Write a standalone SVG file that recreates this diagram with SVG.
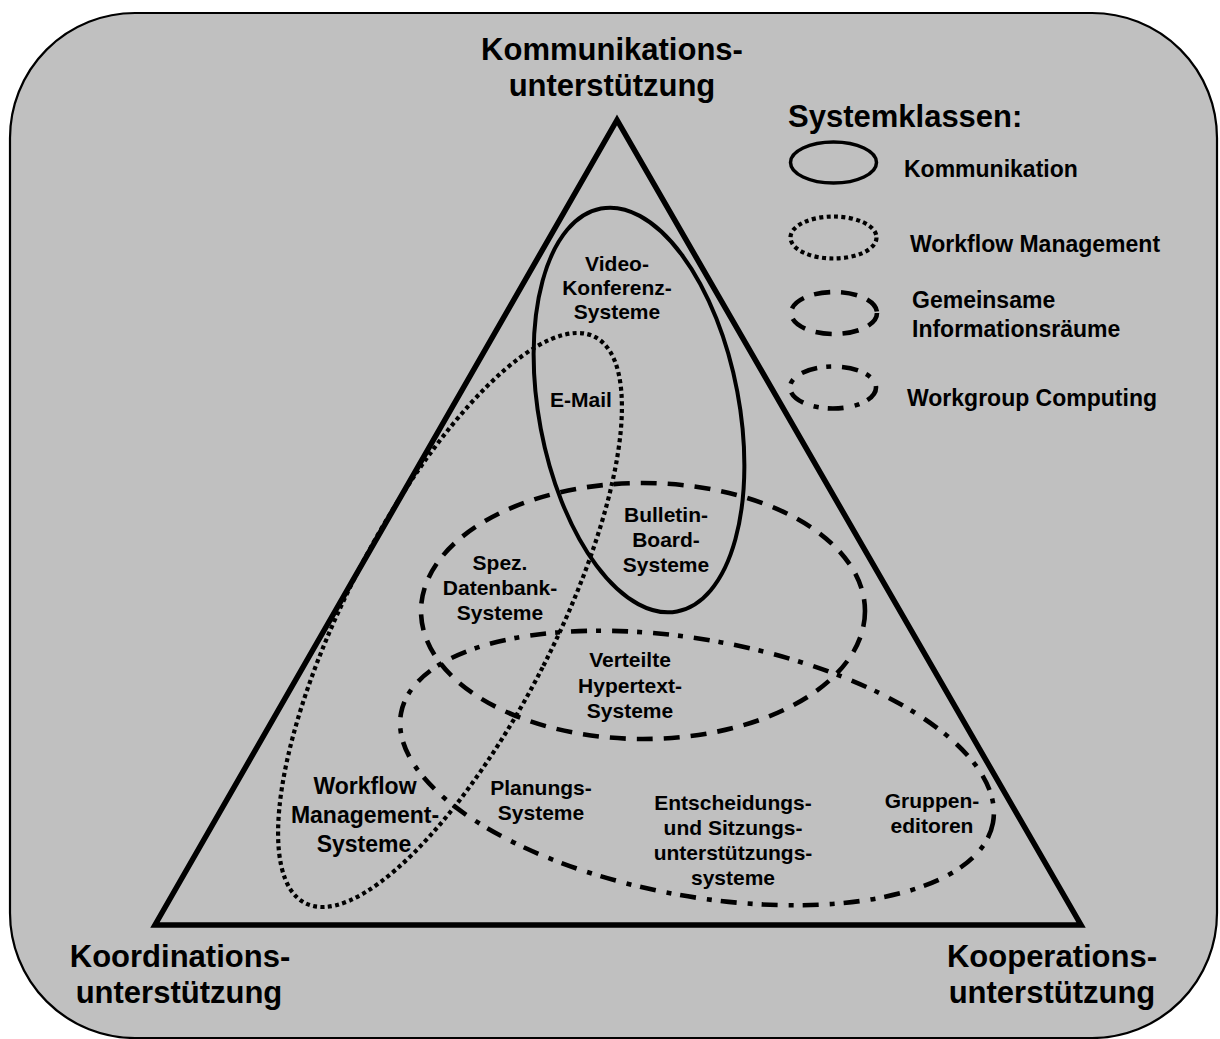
<svg xmlns="http://www.w3.org/2000/svg" width="1220" height="1039" viewBox="0 0 1220 1039">
<style>
text{font-family:"Liberation Sans",Arial,sans-serif;font-weight:bold;fill:#000}
.c{text-anchor:middle}
.lbl{font-size:21px}
.big{font-size:31px}
.leg{font-size:23px}
.e{fill:none;stroke:#000}
.solid{stroke-width:4}
.dot{stroke-width:4.2;stroke-dasharray:4 3.4}
.dash{stroke-width:4.6;stroke-dasharray:16 11}
.dd{stroke-width:4.6;stroke-dasharray:16 9 5 11}
</style>
<rect id="background" x="10" y="13" width="1207" height="1025" rx="125" ry="125" fill="#c0c0c0" stroke="#000" stroke-width="2.2"/>
<g id="triangle">
<polygon points="617,120 155,925 1081,925" fill="none" stroke="#000" stroke-width="5.5" stroke-linejoin="miter"/>
</g>
<g id="connectors"></g>
<g id="ellipse-kommunikation">
<ellipse class="e solid" cx="639" cy="410" rx="100" ry="205" transform="rotate(-10.7 639 410)"/>
</g>
<g id="ellipse-workflow">
<ellipse class="e dot" cx="450" cy="620" rx="104" ry="318" transform="rotate(27.1 450 620)"/>
</g>
<g id="ellipse-informationsraeume">
<ellipse class="e dash" cx="643" cy="611" rx="222" ry="128"/>
</g>
<g id="ellipse-workgroup">
<ellipse class="e dd" cx="697" cy="768" rx="301" ry="128" transform="rotate(10.5 697 768)"/>
</g>
<g id="label-kommunikation">
<text class="big c" x="612" y="60">Kommunikations-</text>
<text class="big c" x="612" y="96">unterstützung</text>
</g>
<g id="label-koordination">
<text class="big c" x="180" y="967">Koordinations-</text>
<text class="big c" x="179" y="1003">unterstützung</text>
</g>
<g id="label-kooperation">
<text class="big c" x="1052" y="967">Kooperations-</text>
<text class="big c" x="1052" y="1003">unterstützung</text>
</g>
<g id="node-video">
<text class="lbl c" x="617" y="271">Video-</text>
<text class="lbl c" x="617" y="295">Konferenz-</text>
<text class="lbl c" x="617" y="319">Systeme</text>
</g>
<g id="node-email">
<text class="lbl c" x="581" y="407">E-Mail</text>
</g>
<g id="node-bulletin">
<text class="lbl c" x="666" y="522">Bulletin-</text>
<text class="lbl c" x="666" y="547">Board-</text>
<text class="lbl c" x="666" y="572">Systeme</text>
</g>
<g id="node-datenbank">
<text class="lbl c" x="500" y="570">Spez.</text>
<text class="lbl c" x="500" y="595">Datenbank-</text>
<text class="lbl c" x="500" y="620">Systeme</text>
</g>
<g id="node-hypertext">
<text class="lbl c" x="630" y="667">Verteilte</text>
<text class="lbl c" x="630" y="693">Hypertext-</text>
<text class="lbl c" x="630" y="718">Systeme</text>
</g>
<g id="node-workflow">
<text class="c" style="font-size:23px" x="365" y="794">Workflow</text>
<text class="c" style="font-size:23px" x="365" y="823">Management-</text>
<text class="c" style="font-size:23px" x="364" y="852">Systeme</text>
</g>
<g id="node-planung">
<text class="lbl c" x="541" y="795">Planungs-</text>
<text class="lbl c" x="541" y="820">Systeme</text>
</g>
<g id="node-entscheidung">
<text class="lbl c" x="733" y="810">Entscheidungs-</text>
<text class="lbl c" x="733" y="835">und Sitzungs-</text>
<text class="lbl c" x="733" y="860">unterstützungs-</text>
<text class="lbl c" x="733" y="885">systeme</text>
</g>
<g id="node-gruppeneditoren">
<text class="lbl c" x="932" y="808">Gruppen-</text>
<text class="lbl c" x="932" y="833">editoren</text>
</g>
<g id="legend">
<text style="font-size:31px" x="788" y="127">Systemklassen:</text>
<ellipse class="e" stroke-width="3.5" cx="833.5" cy="162.5" rx="43" ry="20.5"/>
<text class="leg" x="904" y="177">Kommunikation</text>
<ellipse class="e dot" cx="833.5" cy="237.5" rx="43" ry="21"/>
<text class="leg" x="910" y="252">Workflow Management</text>
<ellipse class="e dash" cx="834" cy="313" rx="43" ry="21"/>
<text class="leg" x="912" y="308">Gemeinsame</text>
<text class="leg" x="912" y="337">Informationsräume</text>
<ellipse class="e dd" cx="833" cy="387.5" rx="43" ry="21"/>
<text class="leg" x="907" y="406">Workgroup Computing</text>
</g>
</svg>
